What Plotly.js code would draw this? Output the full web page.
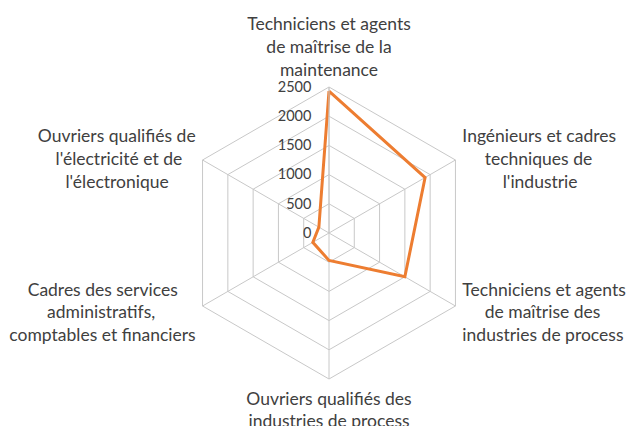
<!DOCTYPE html>
<html>
<head>
<meta charset="utf-8">
<script src="https://cdn.plot.ly/plotly-3.0.1.min.js"></script>
<style>html,body{margin:0;padding:0;background:#fff;}#chart{width:626px;height:426px;}</style>
</head>
<body>
<div id="chart"></div>
<script>
var categoryLines = [
  ["Techniciens et agents", "de maîtrise de la", "maintenance"],
  ["Ingénieurs et cadres", "techniques de", "l'industrie"],
  ["Techniciens et agents", "de maîtrise des", "industries de process"],
  ["Ouvriers qualifiés des", "industries de process"],
  ["Cadres des services", "administratifs,", "comptables et financiers"],
  ["Ouvriers qualifiés de", "l'électricité et de", "l'électronique"]
];
var values = [2430, 1900, 1500, 470, 320, 200];
var radialTicks = [0, 500, 1000, 1500, 2000, 2500];

var FONT = 'Lato, sans-serif';
var CAT_SIZE = 17.5;

// centre multi-line labels that Plotly anchors at start/end by padding with no-break spaces,
// and add blank lines so that side labels sit vertically centred on their spoke
var ctx = document.createElement('canvas').getContext('2d');
ctx.font = CAT_SIZE + 'px Lato';
var nb = '\u00A0';
var nbW = ctx.measureText(nb).width || (CAT_SIZE * 0.25);
function centred(lines, side, vpos) {
  var out;
  if (side === 'middle') {
    out = lines.slice();
  } else {
    var widths = lines.map(function (l) { return ctx.measureText(l).width; });
    var maxW = Math.max.apply(null, widths);
    out = lines.map(function (l, i) {
      var n = Math.round((maxW - widths[i]) / 2 / nbW);
      var pad = new Array(n + 1).join(nb);
      return side === 'start' ? pad + l : l + pad;
    });
  }
  if (vpos === 'upper') out = [nb, nb, nb].concat(out);
  if (vpos === 'lower') out = out.concat([nb, nb, nb]);
  return out.join('<br>');
}
var sides = ['middle', 'start', 'start', 'middle', 'end', 'end'];
var vpos = ['', 'upper', 'lower', '', 'lower', 'upper'];
var categories = categoryLines.map(function (c, i) { return centred(c, sides[i], vpos[i]); });

var trace = {
  type: 'scatterpolar',
  r: values.concat([values[0]]),
  theta: categories.concat([categories[0]]),
  mode: 'lines',
  line: {color: '#ED7D31', width: 3},
  hoverinfo: 'skip'
};

var layout = {
  width: 626, height: 426,
  margin: {l: 183, r: 151, t: 87, b: 47},
  paper_bgcolor: '#fff',
  showlegend: false,
  font: {family: FONT, size: CAT_SIZE, color: '#404040'},
  polar: {
    domain: {x: [0, 1], y: [0, 1]},
    gridshape: 'linear',
    bgcolor: '#fff',
    angularaxis: {
      direction: 'clockwise',
      rotation: 90,
      showline: true,
      linecolor: '#c8c8c8',
      linewidth: 1,
      gridcolor: '#c8c8c8',
      ticks: 'outside',
      ticklen: 4,
      tickcolor: 'rgba(0,0,0,0)',
      tickfont: {family: FONT, size: CAT_SIZE, color: '#404040'}
    },
    radialaxis: {
      range: [0, 2500],
      tickvals: radialTicks,
      ticktext: radialTicks.map(String),
      angle: 90,
      tickangle: 90,
      side: 'counterclockwise',
      showline: true,
      linecolor: '#c8c8c8',
      gridcolor: '#c8c8c8',
      ticks: 'outside',
      ticklen: 12,
      tickcolor: 'rgba(0,0,0,0)',
      tickfont: {family: FONT, size: 14.5, color: '#404040'}
    }
  }
};

Plotly.newPlot('chart', [trace], layout, {displayModeBar: false, staticPlot: true});
</script>
</body>
</html>
